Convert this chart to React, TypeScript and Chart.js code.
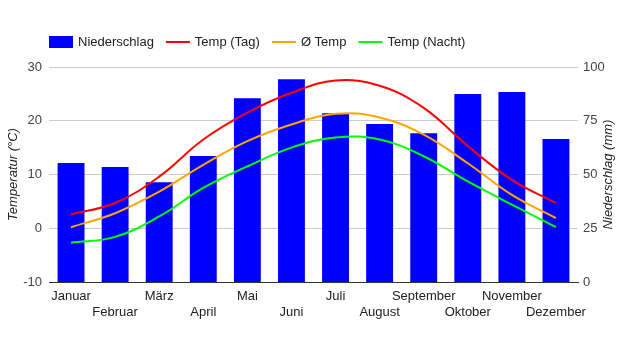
import React, { useEffect, useRef } from "react";
import { Chart, registerables } from "chart.js";

Chart.register(...registerables);

const months = ["Januar", "Februar", "März", "April", "Mai", "Juni", "Juli", "August", "September", "Oktober", "November", "Dezember"];
const precipitation = [55.3, 53.5, 46.4, 58.6, 85.5, 94.3, 78.5, 73.5, 69.2, 87.4, 88.4, 66.5];
const tempDay = [2.6, 4.7, 9.6, 16.5, 21.5, 25.2, 27.5, 26.5, 22.4, 15.3, 9.0, 4.7];
const tempAvg = [0.2, 2.8, 6.8, 11.8, 16.2, 19.3, 21.3, 20.6, 17.4, 12.1, 6.2, 1.9];
const tempNight = [-2.7, -1.6, 2.2, 7.5, 11.5, 15.0, 16.9, 16.5, 13.4, 8.7, 4.4, 0.2];
const tempTicks = [-10, 0, 10, 20, 30];
const precipTicks = [0, 25, 50, 75, 100];

const FONT = "Arial, 'Liberation Sans', sans-serif";

const customPlugin = {
  id: "customDecor",
  afterDraw(chart: any) {
    const ctx = chart.ctx;
    const area = chart.chartArea;
    ctx.save();
    // legend
    ctx.font = `13px ${FONT}`;
    ctx.textBaseline = "middle";
    ctx.textAlign = "left";
    let x = 49;
    const y = 42;
    chart.data.datasets.forEach((ds: any) => {
      if (ds.type === "bar") {
        ctx.fillStyle = ds.backgroundColor;
        ctx.fillRect(x, y - 6, 24, 12);
      } else {
        ctx.strokeStyle = ds.borderColor;
        ctx.lineWidth = 2;
        ctx.beginPath();
        ctx.moveTo(x, y);
        ctx.lineTo(x + 24, y);
        ctx.stroke();
      }
      ctx.fillStyle = "#222";
      const tx = x + 29;
      ctx.fillText(ds.label, tx, y + 0.5);
      x = tx + ctx.measureText(ds.label).width + 12;
    });
    // right axis title (reads bottom to top)
    ctx.font = `italic 13px ${FONT}`;
    ctx.fillStyle = "#222";
    ctx.textAlign = "center";
    ctx.translate(608, (area.top + area.bottom) / 2);
    ctx.rotate(-Math.PI / 2);
    ctx.fillText("Niederschlag (mm)", 0, 0);
    ctx.restore();
  },
};

export default function App() {
  const ref = useRef<HTMLCanvasElement | null>(null);
  useEffect(() => {
    if (!ref.current) return;
    const chart = new Chart(ref.current, {
      type: "bar",
      data: {
        labels: months.map((m, i) => (i % 2 === 0 ? m : ["", m])),
        datasets: [
          {
            type: "bar",
            label: "Niederschlag",
            data: precipitation,
            backgroundColor: "#0000ff",
            borderWidth: 0,
            yAxisID: "y1",
            order: 1,
            categoryPercentage: 1,
            barPercentage: 0.61,
          } as any,
          {
            type: "line",
            label: "Temp (Tag)",
            data: tempDay,
            borderColor: "#ff0000",
            backgroundColor: "#ff0000",
            borderWidth: 2,
            pointRadius: 0,
            tension: 0.4,
            yAxisID: "y",
            order: 0,
          },
          {
            type: "line",
            label: "Ø Temp",
            data: tempAvg,
            borderColor: "#ffa500",
            backgroundColor: "#ffa500",
            borderWidth: 2,
            pointRadius: 0,
            tension: 0.4,
            yAxisID: "y",
            order: 0,
          },
          {
            type: "line",
            label: "Temp (Nacht)",
            data: tempNight,
            borderColor: "#00ff00",
            backgroundColor: "#00ff00",
            borderWidth: 2,
            pointRadius: 0,
            tension: 0.4,
            yAxisID: "y",
            order: 0,
          },
        ],
      },
      options: {
        responsive: false,
        animation: false,
        layout: { padding: { top: 67, left: 0, right: 0, bottom: 0 } },
        plugins: {
          legend: { display: false },
          tooltip: { enabled: false },
        },
        scales: {
          x: {
            grid: { display: false, drawTicks: false },
            border: { display: true, color: "#333", width: 1 },
            ticks: {
              autoSkip: false,
              maxRotation: 0,
              padding: 6,
              color: "#222",
              font: { family: FONT, size: 13, lineHeight: 16 / 13 },
            },
            afterFit: (s: any) => {
              s.height = 68;
            },
          },
          y: {
            position: "left",
            min: tempTicks[0],
            max: tempTicks[tempTicks.length - 1],
            afterBuildTicks: (s: any) => {
              s.ticks = tempTicks.map((v) => ({ value: v }));
            },
            grid: {
              drawTicks: false,
              color: (c: any) => (c.tick && c.tick.value === tempTicks[0] ? "rgba(0,0,0,0)" : "#cccccc"),
            },
            border: { display: false },
            ticks: {
              padding: 7,
              color: "#444",
              font: { family: FONT, size: 13 },
            },
            title: {
              display: true,
              text: "Temperatur (°C)",
              color: "#222",
              padding: { top: 6, bottom: 0 },
              font: { family: FONT, size: 13, style: "italic" },
            },
            afterFit: (s: any) => {
              s.width = 49;
            },
          },
          y1: {
            position: "right",
            min: precipTicks[0],
            max: precipTicks[precipTicks.length - 1],
            afterBuildTicks: (s: any) => {
              s.ticks = precipTicks.map((v) => ({ value: v }));
            },
            grid: { display: false, drawTicks: false },
            border: { display: false },
            ticks: {
              padding: 5,
              color: "#444",
              font: { family: FONT, size: 13 },
            },
            afterFit: (s: any) => {
              s.width = 39;
            },
          },
        },
      },
      plugins: [customPlugin],
    });
    return () => chart.destroy();
  }, []);
  return (
    <div style={{ position: "fixed", left: 0, top: 0, width: 617, height: 350, background: "#fff" }}>
      <canvas ref={ref} width={617} height={350} />
    </div>
  );
}
